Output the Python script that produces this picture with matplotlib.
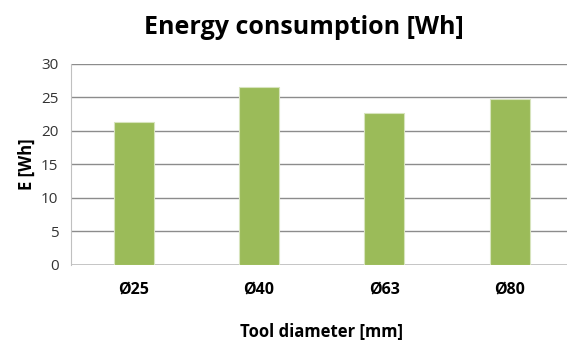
import matplotlib.pyplot as plt

plt.rcParams['font.family'] = ['Open Sans', 'DejaVu Sans']

diameters = ['Ø25', 'Ø40', 'Ø63', 'Ø80']
energy_wh = [21.4, 26.6, 22.7, 24.7]
y_ticks = [0, 5, 10, 15, 20, 25, 30]

fig = plt.figure(figsize=(5.67, 3.4), dpi=100)
ax = fig.add_axes([0.1252, 0.2206, 0.884, 0.5912])

x = range(len(diameters))
ax.bar(x, energy_wh, width=0.32, color='#9BBB59', edgecolor='#D7E4BD',
       linewidth=0.8, zorder=3)

ax.set_xlim(-0.5, 3.5)
ax.set_ylim(0, 30)
ax.set_yticks(y_ticks)
ax.set_xticks(list(x))
ax.set_xticklabels(diameters, fontweight='bold', fontsize=11.5)
ax.tick_params(axis='y', labelsize=11, length=0, pad=9, colors='#333333')
ax.tick_params(axis='x', length=0, pad=12)
ax.grid(axis='y', color='#8c8c8c', linewidth=1, zorder=0)
for side in ['top', 'right', 'left', 'bottom']:
    ax.spines[side].set_visible(False)
ax.spines['left'].set_visible(True)
ax.spines['left'].set_color('#c0c0c0')
ax.axhline(0, color='#c0c0c0', linewidth=1.2, zorder=2)

ax.set_ylabel('E [Wh]', fontweight='bold', fontsize=12, labelpad=4)
ax.set_xlabel('Tool diameter [mm]', fontweight='bold', fontsize=12, labelpad=18)
fig.text(0.536, 0.92, 'Energy consumption [Wh]', ha='center', va='center',
         fontsize=18, fontweight='bold')

fig.savefig('out.png', dpi=100)
